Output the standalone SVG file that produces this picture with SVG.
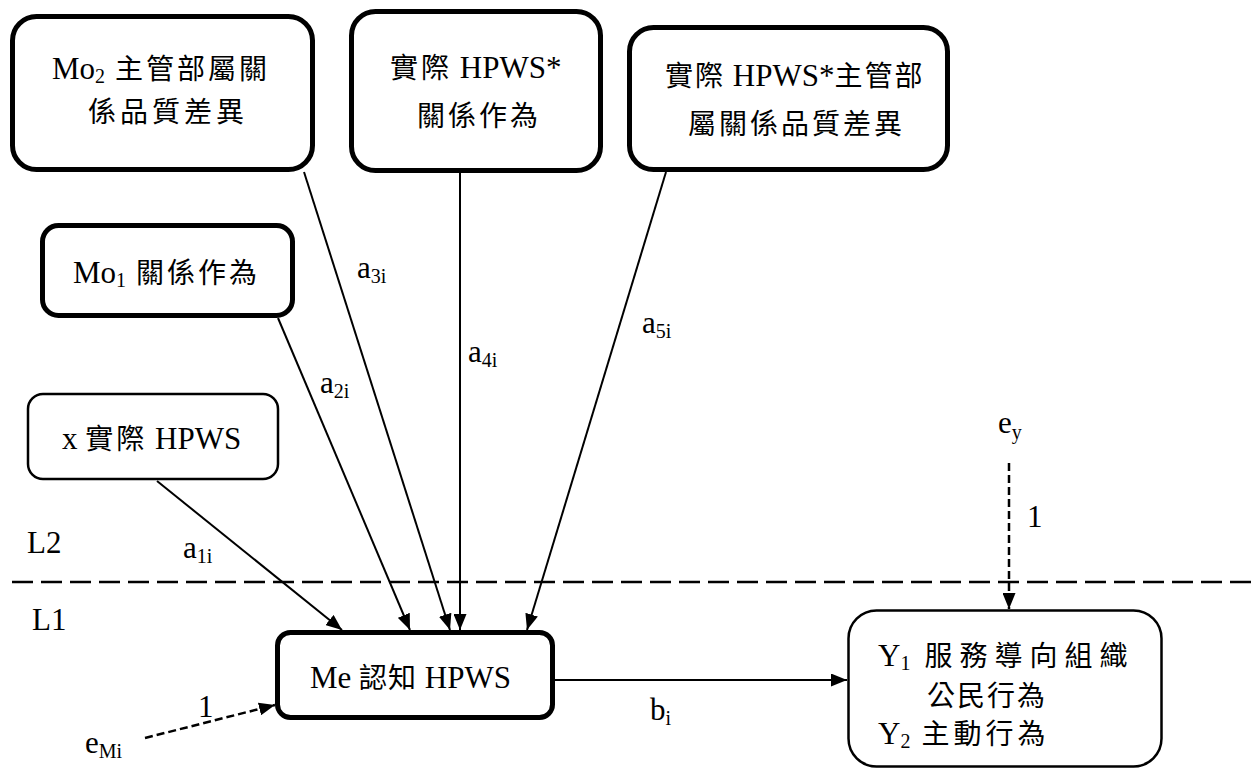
<svg xmlns="http://www.w3.org/2000/svg" width="1257" height="771" viewBox="0 0 1257 771">
<style>
.t{font-family:"Liberation Serif","Times New Roman","Noto Sans CJK TC",serif;font-size:31px;fill:#000}
.k{font-size:28px;letter-spacing:3px}
.lb{font-family:"Liberation Serif","Times New Roman","Noto Sans CJK TC",serif;font-size:31px;fill:#000}
.s{font-size:20px}
.thick{fill:#fff;stroke:#000;stroke-width:5}
.thin{fill:#fff;stroke:#000;stroke-width:2.5}
.c{stroke:#000;stroke-width:2;fill:none;marker-end:url(#ah)}
.d{stroke:#000;stroke-width:2.5;fill:none;stroke-dasharray:8 4;marker-end:url(#ah)}
</style>
<defs>
<marker id="ah" markerUnits="userSpaceOnUse" markerWidth="16" markerHeight="13" refX="16" refY="6.5" orient="auto">
<path d="M0,0 L16,6.5 L0,13 z" fill="#000"/>
</marker>
</defs>
<rect width="1257" height="771" fill="#fff"/>
<line x1="12" y1="582" x2="1257" y2="582" stroke="#000" stroke-width="2.5" stroke-dasharray="21 8"/>
<text class="lb" x="27" y="553">L2</text>
<text class="lb" x="32" y="630">L1</text>
<g id="connectors">
<line class="c" x1="157" y1="481" x2="342" y2="630"/>
<line class="c" x1="278" y1="318" x2="410" y2="630"/>
<line class="c" x1="304" y1="172" x2="450" y2="630"/>
<line class="c" x1="460" y1="172" x2="460" y2="630"/>
<line class="c" x1="666" y1="172" x2="527" y2="630"/>
<line class="c" x1="555" y1="680" x2="847" y2="680"/>
<line class="d" x1="145" y1="738" x2="275" y2="705"/>
<line class="d" x1="1009" y1="463" x2="1009" y2="609"/>
<text class="lb" x="183" y="558">a<tspan class="s" dy="5">1i</tspan></text>
<text class="lb" x="320" y="393">a<tspan class="s" dy="5">2i</tspan></text>
<text class="lb" x="357" y="278">a<tspan class="s" dy="5">3i</tspan></text>
<text class="lb" x="468" y="362">a<tspan class="s" dy="5">4i</tspan></text>
<text class="lb" x="642" y="333">a<tspan class="s" dy="5">5i</tspan></text>
<text class="lb" x="650" y="720">b<tspan class="s" dy="5">i</tspan></text>
<text class="lb" x="198" y="717">1</text>
<text class="lb" x="1027" y="527">1</text>
<text class="lb" x="85" y="753">e<tspan class="s" dy="5">Mi</tspan></text>
<text class="lb" x="998" y="433">e<tspan class="s" dy="6">y</tspan></text>
</g>
<g id="mo2">
<rect class="thick" x="12.5" y="16.5" width="300" height="153" rx="24"/>
<text class="t" x="52" y="79">Mo<tspan class="s" dy="4">2</tspan><tspan class="k" dy="-4"> 主管部屬關</tspan></text>
<text class="t" x="88" y="122"><tspan class="k" style="letter-spacing:4px">係品質差異</tspan></text>
</g>
<g id="hpws-rel">
<rect class="thick" x="351.5" y="11.5" width="249" height="159" rx="24"/>
<text class="t" x="390" y="78"><tspan class="k">實際</tspan> HPWS*</text>
<text class="t" x="417" y="126"><tspan class="k">關係作為</tspan></text>
</g>
<g id="hpws-mo2">
<rect class="thick" x="629.5" y="27.5" width="318" height="142" rx="24"/>
<text class="t" x="665" y="86"><tspan class="k" style="letter-spacing:2px">實際</tspan> HPWS*<tspan class="k" style="letter-spacing:2px">主管部</tspan></text>
<text class="t" x="688" y="134"><tspan class="k" style="letter-spacing:3px">屬關係品質差異</tspan></text>
</g>
<g id="mo1">
<rect class="thick" x="42.5" y="225.5" width="250" height="90" rx="16"/>
<text class="t" x="73" y="283">Mo<tspan class="s" dy="4">1</tspan><tspan class="k" dy="-4"> 關係作為</tspan></text>
</g>
<g id="x">
<rect class="thin" x="28" y="394" width="250" height="85" rx="15"/>
<text class="t" x="62" y="449">x <tspan class="k">實際</tspan> HPWS</text>
</g>
<g id="me">
<rect class="thick" x="277.5" y="632.5" width="275" height="85" rx="13"/>
<text class="t" x="310" y="688">Me <tspan class="k" style="letter-spacing:1px">認知</tspan> HPWS</text>
</g>
<g id="y">
<rect class="thin" x="848.5" y="610.5" width="313" height="156" rx="28"/>
<text class="t" x="878" y="666">Y<tspan class="s" dy="4">1</tspan><tspan class="k" dy="-4" style="letter-spacing:7px"> 服務導向組織</tspan></text>
<text class="t" x="927" y="706"><tspan class="k" style="letter-spacing:2px">公民行為</tspan></text>
<text class="t" x="878" y="744">Y<tspan class="s" dy="4">2</tspan><tspan class="k" dy="-4" style="letter-spacing:4px"> 主動行為</tspan></text>
</g>
</svg>
